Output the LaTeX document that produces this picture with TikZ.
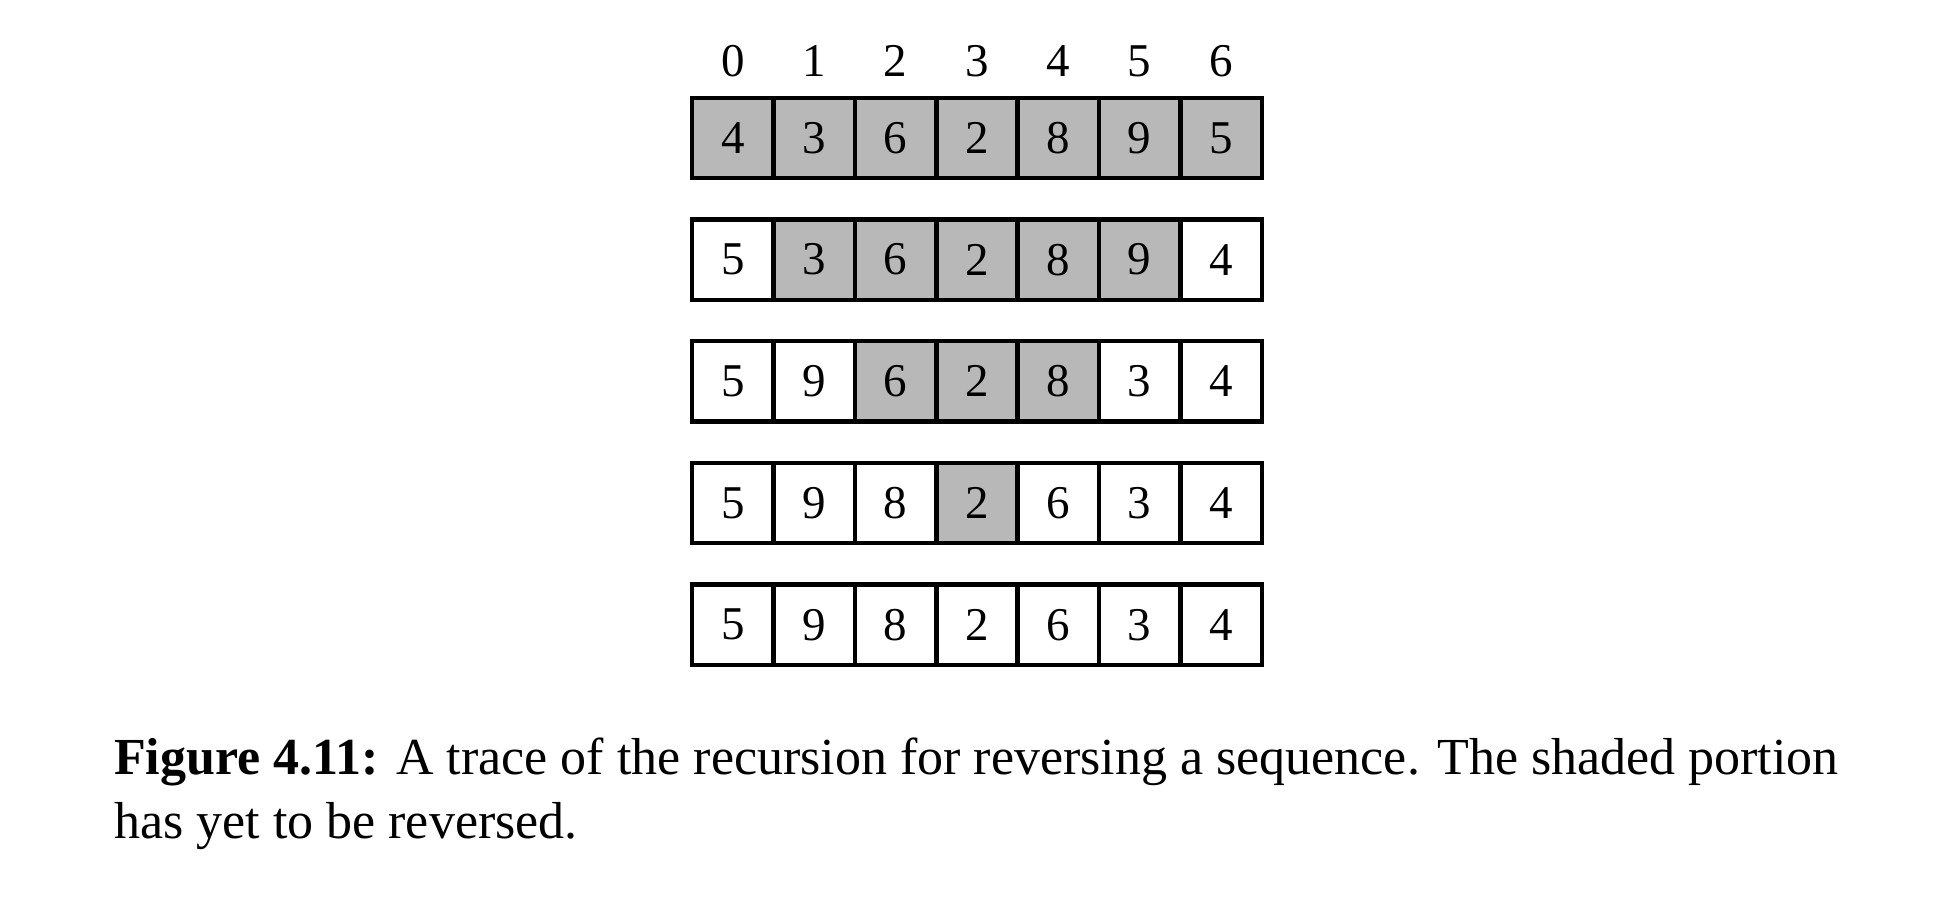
\documentclass[tikz,border=0pt]{standalone}
\usepackage{fontspec}
\setmainfont{Liberation Serif}
\definecolor{shade}{RGB}{184,184,184}
\begin{document}
\begin{tikzpicture}[x=1pt,y=1pt,
  cell/.style={draw=black, line width=4.5pt, minimum width=81.36pt, minimum height=80.3pt, inner sep=0pt, font=\fontsize{47}{54}\selectfont},
  shaded/.style={cell, fill=shade},
  plain/.style={cell, fill=white},
  idx/.style={font=\fontsize{47}{54}\selectfont, anchor=base, inner sep=0pt},
  captext/.style={font=\fontsize{52}{62}\selectfont, anchor=base west, inner sep=0pt}]
\useasboundingbox (0,0) rectangle (1955,-902);
\foreach \c in {0,...,6}{
  \node[idx] (i\c) at ({732.9+81.36*\c},-76) {\c};
}
\foreach \r/\row in {0/{4,3,6,2,8,9,5},1/{5,3,6,2,8,9,4},2/{5,9,6,2,8,3,4},3/{5,9,8,2,6,3,4},4/{5,9,8,2,6,3,4}}{
  \foreach \v [count=\c from 0] in \row {
    \pgfmathtruncatemacro{\s}{(\c>=\r) && (\c<=6-\r)}
    \ifnum\s=1 \def\st{shaded}\else\def\st{plain}\fi
    \node[\st] (c\r\c) at ({732.9+81.36*\c},{-137.9-121.7*\r}) {\v};
  }
}
\node[captext] (cap1) at (114,-774) {\textbf{Figure 4.11:} A trace of the recursion for reversing a sequence. The shaded portion};
\node[captext] (cap2) at (114,-838) {has yet to be reversed.};
\end{tikzpicture}
\end{document}
